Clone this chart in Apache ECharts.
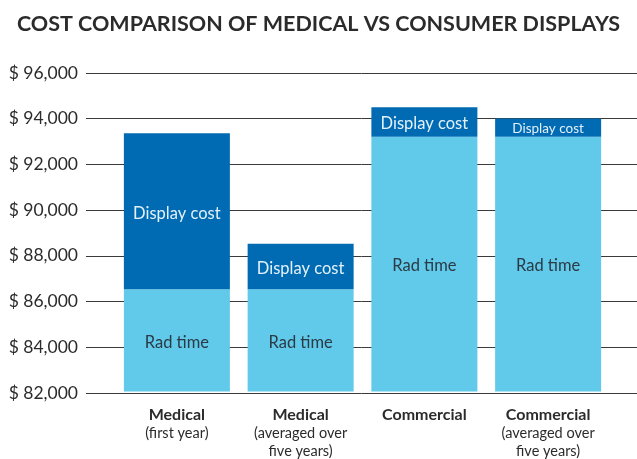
<!DOCTYPE html>
<html>
<head>
<meta charset="utf-8">
<script src="https://cdn.jsdelivr.net/npm/echarts@6/dist/echarts.min.js"></script>
<style>html,body{margin:0;padding:0;background:#fff;}#c{width:637px;height:459px;}</style>
</head>
<body>
<div id="c"></div>
<script>
const title = 'COST COMPARISON OF MEDICAL VS CONSUMER DISPLAYS';
const categories = ['Medical', 'Medical', 'Commercial', 'Commercial'];
const subLabels = ['(first year)', '(averaged over\nfive years)', '', '(averaged over\nfive years)'];
const radTime = [86500, 86500, 93200, 93200];
const displayCost = [6850, 2000, 1300, 800];
const seriesNames = ['Rad time', 'Display cost'];
const yMin = 82000, yMax = 96000, yStep = 2000;

const chart = echarts.init(document.getElementById('c'));
const gridTop = 73, gridBottom = 459 - 393;
chart.setOption({
  animation: false,
  title: {
    text: title, left: 'center', top: 8,
    textStyle: { fontFamily: 'Lato', fontWeight: 'bold', fontSize: 21.5, color: '#2b2b2b' }
  },
  grid: [
    { left: 86, right: 0, top: gridTop, bottom: gridBottom, containLabel: false },
    { left: 115, right: 27, top: gridTop, bottom: gridBottom, containLabel: false }
  ],
  xAxis: [
    { type: 'category', gridIndex: 0, data: categories, show: false },
    {
      type: 'category', gridIndex: 1, data: categories,
      axisLine: { show: false }, axisTick: { show: false },
      axisLabel: {
        interval: 0, hideOverlap: false, margin: 14,
        formatter: (v, i) => '{b|' + v + '}' + (subLabels[i] ? '\n{s|' + subLabels[i].split('\n').join('}\n{s|') + '}' : ''),
        rich: {
          b: { fontFamily: 'Lato', fontWeight: 'bold', fontSize: 16, color: '#2b2b2b', lineHeight: 19 },
          s: { fontFamily: 'Lato', fontSize: 14.5, color: '#2b2b2b', lineHeight: 18 }
        }
      }
    }
  ],
  yAxis: [
    {
      type: 'value', gridIndex: 0, min: yMin, max: yMax, interval: yStep,
      axisLine: { show: false }, axisTick: { show: false },
      splitLine: { lineStyle: { color: '#3a3a3a', width: 1 } },
      axisLabel: {
        margin: 8, fontFamily: 'Lato', fontSize: 17.5, color: '#2b2b2b',
        formatter: v => '$ ' + v.toLocaleString('en-US')
      }
    },
    {
      type: 'value', gridIndex: 1, min: yMin, max: yMax, interval: yStep,
      show: false, splitLine: { show: false }
    }
  ],
  series: [
    {
      name: seriesNames[0], type: 'bar', xAxisIndex: 1, yAxisIndex: 1, stack: 'a',
      data: radTime, barWidth: 106,
      itemStyle: { color: '#61c9ea' },
      label: { show: true, position: 'inside', offset: [0, 2], formatter: seriesNames[0], fontFamily: 'Lato', fontSize: 16.5, color: '#2b3a44' }
    },
    {
      name: seriesNames[1], type: 'bar', xAxisIndex: 1, yAxisIndex: 1, stack: 'a',
      data: displayCost.map((v, i) => ({
        value: v,
        label: i === 3 ? { fontSize: 13.5, offset: [0, 1] } : {}
      })),
      barWidth: 106,
      itemStyle: { color: '#006bb3' },
      label: { show: true, position: 'inside', offset: [0, 2], formatter: seriesNames[1], fontFamily: 'Lato', fontSize: 16.5, color: '#e3f1fb' }
    }
  ]
});
</script>
</body>
</html>
